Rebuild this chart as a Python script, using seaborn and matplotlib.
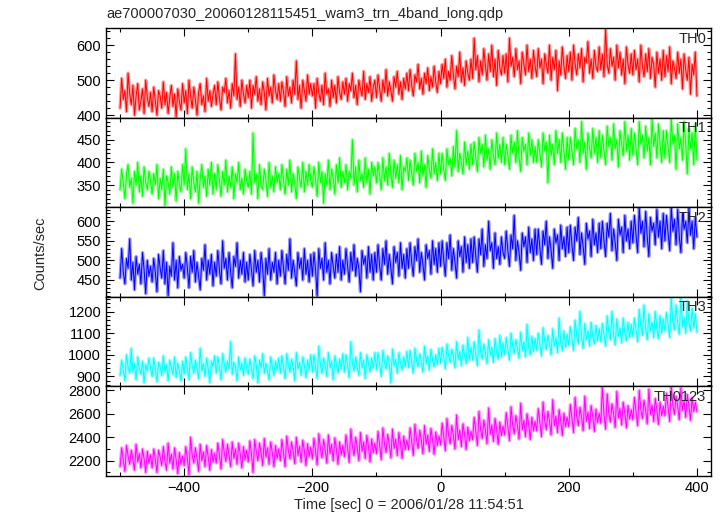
import numpy as np
import pandas as pd
import seaborn as sns
from matplotlib import pyplot as plt
from matplotlib.ticker import MultipleLocator

# light curves, one sample every 2.5 s starting at -500 s
t_start, t_step = -500, 2.5

th0 = [420, 505, 445, 470, 410, 520, 460, 430, 485, 400, 455, 490, 415, 440, 475, 405, 500, 450, 425, 465,
       410, 480, 440, 400, 470, 455, 420, 495, 430, 465, 405, 450, 485, 425, 460, 395, 475, 440, 415, 490,
       435, 470, 405, 500, 455, 420, 480, 445, 400, 465, 490, 430, 455, 410, 505, 440, 470, 425, 460, 485,
       430, 495, 450, 415, 480, 465, 505, 435, 470, 420, 490, 455, 575, 445, 480, 425, 500, 460, 435, 485,
       450, 500, 420, 485, 460, 510, 440, 475, 430, 495, 465, 415, 505, 455, 480, 435, 515, 470, 445, 490,
       440, 495, 465, 425, 510, 455, 480, 435, 500, 460, 555, 445, 485, 420, 500, 470, 440, 515, 460, 490,
       455, 490, 420, 505, 465, 440, 485, 430, 520, 460, 475, 425, 500, 450, 485, 435, 510, 465, 445, 495,
       460, 505, 440, 490, 470, 520, 450, 485, 430, 500, 475, 455, 525, 445, 490, 465, 510, 440, 480, 500,
       450, 515, 475, 440, 500, 465, 530, 455, 495, 470, 440, 510, 480, 525, 460, 495, 445, 505, 475, 520,
       470, 530, 485, 455, 515, 495, 545, 475, 505, 460, 520, 490, 535, 470, 510, 480, 540, 495, 465, 525,
       490, 545, 505, 560, 480, 525, 500, 570, 515, 475, 540, 510, 580, 495, 535, 485, 555, 520, 500, 560,
       505, 620, 530, 570, 495, 555, 515, 590, 540, 500, 575, 525, 600, 510, 560, 485, 585, 535, 515, 570,
       520, 575, 495, 620, 540, 565, 510, 590, 530, 555, 490, 580, 545, 515, 600, 525, 560, 505, 585, 540,
       510, 590, 535, 560, 490, 575, 545, 520, 600, 500, 565, 530, 585, 470, 555, 515, 595, 540, 505, 570,
       525, 580, 500, 600, 545, 515, 575, 535, 590, 495, 565, 550, 610, 520, 560, 505, 585, 540, 525, 595,
       530, 575, 510, 645, 545, 520, 590, 540, 565, 500, 600, 535, 580, 515, 560, 490, 595, 545, 520, 575,
       515, 585, 530, 560, 495, 600, 540, 510, 575, 525, 590, 505, 565, 545, 480, 580, 520, 560, 500, 585,
       510, 570, 525, 595, 490, 555, 535, 505, 580, 520, 560, 475, 575, 530, 500, 565, 460, 545, 515, 580,
       455]

th1 = [340, 385, 355, 320, 375, 395, 345, 365, 310, 380, 350, 400, 335, 370, 325, 390, 355, 340, 380, 360,
       330, 375, 350, 395, 320, 365, 340, 385, 305, 370, 355, 330, 390, 345, 375, 315, 380, 350, 335, 395,
       350, 430, 340, 375, 320, 390, 355, 335, 380, 310, 365, 395, 345, 370, 325, 385, 350, 400, 330, 375,
       340, 395, 360, 325, 380, 350, 405, 335, 370, 345, 390, 320, 375, 355, 400, 340, 365, 330, 385, 360,
       345, 380, 330, 465, 355, 375, 320, 395, 350, 340, 385, 360, 325, 400, 345, 370, 335, 390, 355, 375,
       340, 395, 360, 330, 385, 350, 405, 335, 375, 355, 320, 390, 365, 345, 400, 335, 380, 350, 395, 360,
       345, 390, 360, 325, 400, 355, 380, 310, 375, 350, 405, 340, 385, 365, 330, 395, 355, 410, 345, 380,
       355, 395, 340, 380, 365, 450, 350, 390, 335, 405, 360, 375, 345, 410, 355, 385, 330, 400, 370, 390,
       355, 400, 370, 340, 410, 360, 390, 350, 420, 375, 345, 405, 365, 395, 355, 415, 340, 390, 380, 410,
       360, 405, 375, 350, 420, 380, 400, 355, 425, 370, 395, 345, 415, 385, 365, 430, 375, 400, 360, 420,
       375, 420, 385, 360, 430, 395, 410, 370, 435, 390, 470, 380, 420, 400, 375, 445, 395, 425, 385, 440,
       395, 445, 410, 380, 455, 420, 440, 390, 460, 405, 430, 385, 450, 415, 395, 465, 410, 440, 400, 455,
       395, 440, 415, 385, 460, 420, 445, 400, 470, 410, 380, 455, 425, 440, 395, 465, 415, 450, 400, 435,
       400, 450, 420, 390, 465, 425, 445, 355, 460, 415, 440, 395, 470, 420, 450, 400, 465, 425, 385, 455,
       405, 455, 425, 395, 475, 430, 450, 400, 490, 420, 445, 385, 465, 430, 410, 475, 420, 455, 400, 470,
       410, 460, 425, 395, 480, 435, 455, 405, 485, 430, 450, 390, 470, 440, 415, 490, 425, 460, 405, 475,
       415, 465, 430, 395, 490, 440, 460, 410, 480, 425, 455, 395, 495, 435, 465, 410, 485, 440, 400, 470,
       410, 470, 435, 400, 495, 440, 460, 385, 485, 430, 455, 405, 490, 440, 375, 475, 430, 465, 395, 485,
       405]

th2 = [455, 530, 470, 440, 505, 480, 555, 450, 495, 425, 510, 465, 490, 440, 520, 475, 415, 500, 460, 485,
       445, 505, 470, 420, 515, 480, 455, 525, 440, 495, 410, 485, 460, 545, 450, 500, 430, 510, 475, 490,
       455, 520, 480, 430, 510, 470, 525, 445, 495, 460, 425, 505, 475, 540, 450, 500, 465, 515, 435, 495,
       460, 525, 475, 440, 550, 480, 505, 450, 520, 470, 430, 510, 485, 545, 455, 500, 465, 520, 445, 495,
       450, 515, 475, 435, 525, 470, 500, 445, 520, 480, 410, 505, 465, 530, 450, 495, 470, 520, 440, 500,
       460, 525, 480, 440, 515, 475, 555, 455, 500, 470, 435, 520, 480, 505, 450, 530, 465, 500, 445, 515,
       460, 520, 475, 410, 530, 480, 505, 450, 545, 470, 500, 440, 520, 485, 455, 515, 470, 535, 450, 500,
       465, 530, 485, 445, 520, 475, 540, 460, 505, 480, 420, 525, 490, 510, 455, 535, 470, 515, 450, 520,
       470, 540, 485, 450, 530, 490, 550, 465, 515, 480, 440, 535, 495, 520, 460, 545, 480, 515, 455, 530,
       480, 545, 495, 460, 535, 500, 555, 470, 520, 490, 450, 540, 505, 525, 465, 550, 490, 530, 470, 545,
       485, 550, 500, 460, 545, 505, 565, 475, 530, 495, 455, 550, 510, 535, 470, 560, 495, 540, 480, 555,
       495, 560, 510, 470, 555, 515, 580, 485, 540, 505, 600, 525, 545, 480, 570, 505, 535, 490, 560, 520,
       505, 575, 525, 485, 565, 530, 615, 500, 550, 520, 475, 570, 535, 560, 495, 585, 520, 555, 500, 580,
       515, 580, 530, 490, 575, 540, 600, 505, 560, 525, 480, 580, 545, 565, 500, 590, 530, 560, 510, 585,
       520, 590, 540, 500, 585, 550, 610, 515, 570, 535, 490, 595, 555, 575, 510, 605, 540, 570, 520, 595,
       530, 600, 550, 510, 595, 560, 620, 525, 580, 545, 500, 605, 565, 585, 520, 615, 550, 580, 530, 600,
       545, 615, 565, 520, 635, 570, 600, 535, 625, 560, 510, 610, 575, 595, 540, 630, 560, 600, 530, 620,
       550, 615, 570, 525, 635, 575, 605, 540, 630, 560, 520, 620, 580, 600, 545, 635, 565, 600, 530, 610,
       560]

th3 = [905, 975, 930, 880, 1000, 945, 915, 1030, 920, 960, 885, 990, 935, 910, 970, 870, 955, 925, 985, 940,
       900, 985, 930, 875, 965, 945, 905, 995, 920, 955, 880, 975, 940, 910, 990, 895, 960, 925, 880, 970,
       910, 990, 935, 885, 1010, 950, 915, 975, 940, 890, 1030, 925, 960, 900, 985, 935, 870, 970, 945, 995,
       915, 990, 940, 885, 1005, 955, 920, 970, 935, 1060, 910, 965, 945, 880, 990, 930, 960, 905, 985, 940,
       910, 980, 935, 890, 995, 950, 870, 975, 940, 1005, 915, 960, 925, 885, 990, 945, 905, 970, 930, 985,
       915, 995, 940, 890, 1005, 955, 920, 980, 945, 880, 1010, 935, 965, 905, 990, 950, 895, 975, 930, 1000,
       920, 1000, 945, 890, 1040, 955, 915, 985, 950, 900, 1010, 940, 970, 885, 995, 955, 915, 980, 935, 1005,
       920, 1000, 950, 895, 1060, 960, 925, 990, 945, 905, 1010, 940, 975, 890, 1000, 960, 920, 985, 940, 1010,
       930, 1010, 955, 900, 1020, 965, 935, 995, 960, 870, 1025, 950, 980, 915, 1010, 960, 930, 990, 945, 1015,
       940, 1020, 965, 915, 1030, 975, 945, 1005, 970, 920, 1040, 960, 995, 930, 1025, 975, 945, 1000, 955, 1030,
       960, 1035, 985, 935, 1050, 995, 965, 1025, 990, 940, 1060, 980, 1015, 950, 1045, 995, 960, 1080, 975, 1035,
       975, 1060, 1000, 950, 1115, 1015, 980, 1050, 1005, 960, 1070, 995, 1035, 965, 1075, 1010, 980, 1090, 990, 1055,
       1000, 1080, 1025, 975, 1100, 1040, 1005, 1070, 1030, 985, 1105, 1020, 1060, 990, 1140, 1035, 1000, 1085, 1015, 1075,
       1020, 1100, 1045, 995, 1125, 1060, 1025, 1090, 1050, 1000, 1120, 1040, 1080, 1010, 1170, 1055, 1020, 1110, 1035, 1095,
       1045, 1130, 1075, 1020, 1160, 1090, 1050, 1200, 1080, 1030, 1145, 1070, 1110, 1040, 1150, 1085, 1050, 1135, 1065, 1120,
       1060, 1145, 1090, 1040, 1180, 1105, 1070, 1200, 1095, 1045, 1165, 1085, 1125, 1055, 1170, 1100, 1065, 1150, 1080, 1140,
       1085, 1170, 1115, 1060, 1210, 1130, 1090, 1230, 1120, 1070, 1190, 1110, 1150, 1080, 1200, 1125, 1075, 1180, 1100, 1165,
       1110, 1195, 1140, 1080, 1260, 1155, 1115, 1230, 1145, 1095, 1265, 1130, 1175, 1100, 1250, 1150, 1110, 1215, 1125, 1190,
       1105]

th0123 = [2150, 2310, 2200, 2110, 2330, 2240, 2170, 2290, 2210, 2120, 2340, 2190, 2260, 2140, 2300, 2215, 2100, 2280, 2180, 2250,
          2140, 2300, 2210, 2100, 2290, 2230, 2160, 2320, 2195, 2120, 2350, 2180, 2255, 2130, 2310, 2205, 2090, 2270, 2170, 2240,
          2160, 2320, 2220, 2080, 2400, 2250, 2180, 2310, 2225, 2110, 2340, 2200, 2275, 2150, 2330, 2230, 2120, 2295, 2190, 2265,
          2180, 2350, 2245, 2130, 2380, 2270, 2195, 2340, 2250, 2150, 2360, 2220, 2300, 2170, 2350, 2255, 2140, 2320, 2210, 2290,
          2190, 2370, 2255, 2100, 2380, 2280, 2200, 2350, 2265, 2160, 2390, 2230, 2310, 2170, 2360, 2270, 2150, 2330, 2220, 2300,
          2200, 2380, 2270, 2150, 2410, 2290, 2215, 2360, 2280, 2175, 2400, 2245, 2325, 2190, 2375, 2285, 2160, 2345, 2235, 2315,
          2215, 2390, 2285, 2165, 2430, 2305, 2225, 2380, 2295, 2180, 2420, 2260, 2340, 2200, 2395, 2300, 2170, 2360, 2250, 2330,
          2235, 2420, 2305, 2185, 2470, 2320, 2245, 2400, 2315, 2200, 2440, 2280, 2360, 2220, 2415, 2320, 2190, 2385, 2270, 2350,
          2260, 2450, 2330, 2210, 2480, 2345, 2270, 2425, 2340, 2225, 2470, 2305, 2385, 2245, 2440, 2345, 2220, 2410, 2295, 2375,
          2295, 2480, 2365, 2245, 2510, 2380, 2305, 2460, 2375, 2260, 2500, 2340, 2420, 2280, 2475, 2380, 2255, 2445, 2330, 2410,
          2335, 2520, 2405, 2285, 2560, 2420, 2345, 2500, 2415, 2300, 2590, 2380, 2460, 2320, 2515, 2420, 2295, 2485, 2370, 2450,
          2380, 2570, 2450, 2330, 2620, 2465, 2390, 2545, 2460, 2345, 2650, 2425, 2505, 2365, 2560, 2465, 2340, 2530, 2415, 2495,
          2420, 2610, 2490, 2370, 2660, 2505, 2430, 2585, 2500, 2385, 2690, 2465, 2545, 2405, 2600, 2505, 2380, 2570, 2455, 2535,
          2455, 2645, 2525, 2405, 2700, 2540, 2465, 2620, 2535, 2420, 2720, 2500, 2580, 2440, 2635, 2540, 2415, 2605, 2490, 2570,
          2490, 2680, 2560, 2440, 2740, 2575, 2500, 2655, 2570, 2455, 2750, 2535, 2615, 2475, 2670, 2575, 2450, 2640, 2525, 2605,
          2520, 2830, 2590, 2470, 2770, 2605, 2530, 2685, 2600, 2485, 2790, 2565, 2645, 2505, 2700, 2605, 2480, 2670, 2555, 2635,
          2550, 2740, 2620, 2500, 2800, 2635, 2560, 2715, 2630, 2515, 2810, 2595, 2675, 2535, 2730, 2635, 2510, 2700, 2585, 2665,
          2585, 2775, 2655, 2535, 2830, 2670, 2595, 2750, 2665, 2550, 2820, 2630, 2710, 2570, 2765, 2670, 2545, 2735, 2620, 2700,
          2620]

bands = ['TH0', 'TH1', 'TH2', 'TH3', 'TH0123']
rates = [th0, th1, th2, th3, th0123]
colors = ['#ff0000', '#00ff00', '#0000ff', '#00ffff', '#ff00ff']
ylims = [(393, 649), (301, 499), (407, 636), (854, 1268), (2070, 2834)]
yticks = [(100, 20), (50, 10), (50, 10), (100, 20), (200, 100)]

df = pd.concat([pd.DataFrame({'band': b,
                              'time': t_start + t_step * np.arange(len(r)),
                              'rate': r})
                for b, r in zip(bands, rates)], ignore_index=True)

sns.set_style('ticks')
plt.rcParams['font.family'] = ['Liberation Sans', 'DejaVu Sans']
plt.rcParams['font.size'] = 10.5

fig, axes = plt.subplots(5, 1, sharex=True, figsize=(7.22, 5.16), dpi=100,
                         gridspec_kw={'hspace': 0})
fig.subplots_adjust(left=0.1468, right=0.9848, top=0.9457, bottom=0.0775)

for ax, band, col, ylim, (maj, mnr) in zip(axes, bands, colors, ylims, yticks):
    sub = df[df['band'] == band]
    # pale halo (error bars in the original) then the curve itself
    sns.lineplot(data=sub, x='time', y='rate', ax=ax, color=col, lw=2.4,
                 alpha=0.4, estimator=None)
    sns.lineplot(data=sub, x='time', y='rate', ax=ax, color=col, lw=0.7,
                 estimator=None)
    ax.set_ylim(ylim)
    ax.set_xlim(-522, 422)
    ax.yaxis.set_major_locator(MultipleLocator(maj))
    ax.yaxis.set_minor_locator(MultipleLocator(mnr))
    ax.xaxis.set_major_locator(MultipleLocator(200))
    ax.xaxis.set_minor_locator(MultipleLocator(100))
    ax.tick_params(which='both', direction='in', top=True, right=True,
                   labelsize=10.5, colors='black')
    ax.tick_params(which='major', length=6, width=0.8)
    ax.tick_params(which='minor', length=3, width=0.8)
    ax.set_ylabel('')
    ax.set_xlabel('')
    for s in ax.spines.values():
        s.set_linewidth(1.0)
        s.set_color('black')
    ax.text(0.992, 0.96, band, transform=ax.transAxes, ha='right', va='top',
            fontsize=10.5)

axes[-1].set_xlabel('Time [sec] 0 = 2006/01/28 11:54:51', fontsize=10.5,
                    labelpad=2)
fig.text(0.056, 0.51, 'Counts/sec', rotation=90, ha='center', va='center',
         fontsize=10.5)
fig.text(0.147, 0.972, 'ae700007030_20060128115451_wam3_trn_4band_long.qdp',
         ha='left', va='center', fontsize=10.5)

plt.savefig('out.png', dpi=100)
